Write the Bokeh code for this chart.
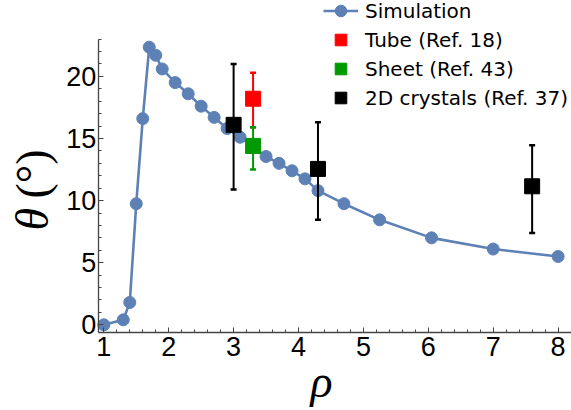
import math
from bokeh.plotting import figure
from bokeh.models import (Range1d, SingleIntervalTicker, Legend, LegendItem, Label)
from bokeh.embed import file_html
from bokeh.resources import INLINE

# ---- data ----
rho_sim = [1.0, 1.3, 1.4, 1.5, 1.6, 1.7, 1.8, 1.9, 2.1, 2.3, 2.5, 2.7, 2.9,
           3.1, 3.5, 3.7, 3.9, 4.1, 4.3, 4.7, 5.25, 6.05, 7.0, 8.0]
theta_sim = [0.0, 0.4, 1.8, 9.75, 16.6, 22.35, 21.7, 20.6, 19.5, 18.6, 17.6,
             16.7, 15.8, 15.1, 13.55, 13.0, 12.4, 11.75, 10.8, 9.75, 8.45,
             7.0, 6.1, 5.5]

tube_rho = [3.3]
tube_theta = [18.2]
tube_lo = [15.9]
tube_hi = [20.3]

sheet_rho = [3.3]
sheet_theta = [14.4]
sheet_lo = [12.5]
sheet_hi = [15.9]

cryst_rho = [3.0, 4.3, 7.6]
cryst_theta = [16.1, 12.55, 11.15]
cryst_lo = [10.9, 8.45, 7.4]
cryst_hi = [21.0, 16.3, 14.45]

labels = ["Simulation", "Tube (Ref. 18)", "Sheet (Ref. 43)", "2D crystals (Ref. 37)"]
x_label = "ρ"
y_label_sym = "θ"
y_label_unit = "(°)"

# axis extents (data units)
X_AXIS_AT = -0.6
Y_AXIS_AT = 0.914
Y_AXIS_TOP = 23.0

BLUE = "#5E81B5"
RED = "#FF0000"
GREEN = "#009900"
BLACK = "#000000"
AXIS = "#444444"

W, H = 571, 410
p = figure(width=W, height=H, output_backend="svg", toolbar_location=None,
           title=None, x_range=Range1d(-0.592, 8.2065),
           y_range=Range1d(-6.90, 26.11))
p.min_border = 0
p.min_border_left = 0
p.min_border_right = 0
p.min_border_top = 0
p.min_border_bottom = 0
p.outline_line_color = None
p.xgrid.visible = False
p.ygrid.visible = False
p.background_fill_color = "white"
p.border_fill_color = "white"

p.xaxis.ticker = SingleIntervalTicker(interval=1, num_minor_ticks=5)
p.yaxis.ticker = SingleIntervalTicker(interval=5, num_minor_ticks=5)
p.xaxis.fixed_location = X_AXIS_AT
p.yaxis.fixed_location = Y_AXIS_AT
p.xaxis.bounds = (Y_AXIS_AT, 8.2065)
p.yaxis.bounds = (X_AXIS_AT, Y_AXIS_TOP)
for ax in (p.xaxis, p.yaxis):
    ax.axis_line_color = AXIS
    ax.axis_line_width = 1.3
    ax.major_tick_line_color = AXIS
    ax.minor_tick_line_color = AXIS
    ax.major_tick_in = 5
    ax.major_tick_out = 0
    ax.minor_tick_in = 3
    ax.minor_tick_out = 0
    ax.major_label_text_font = "Liberation Sans"
    ax.major_label_text_font_size = "27px"
    ax.major_label_text_color = "black"
p.xaxis.major_label_standoff = 5
p.yaxis.major_label_standoff = 2

# simulation
line_r = p.line(rho_sim, theta_sim, line_color=BLUE, line_width=2.6)
circ_r = p.scatter(rho_sim, theta_sim, marker="circle", size=12,
                   fill_color=BLUE, line_color=BLUE)

# error bars + squares
def exp_series(xs, ys, lo, hi, color):
    p.segment(x0=xs, y0=lo, x1=xs, y1=hi, line_color=color, line_width=2)
    p.scatter(xs + xs, lo + hi, marker="dash", size=6, line_color=color,
              line_width=2.5)
    return p.scatter(xs, ys, marker="square", size=15, fill_color=color,
                     line_color=color)

cryst_r = exp_series(cryst_rho, cryst_theta, cryst_lo, cryst_hi, BLACK)
tube_r = exp_series(tube_rho, tube_theta, tube_lo, tube_hi, RED)
sheet_r = exp_series(sheet_rho, sheet_theta, sheet_lo, sheet_hi, GREEN)

legend = Legend(items=[
    LegendItem(label=labels[0], renderers=[line_r, circ_r]),
    LegendItem(label=labels[1], renderers=[tube_r]),
    LegendItem(label=labels[2], renderers=[sheet_r]),
    LegendItem(label=labels[3], renderers=[cryst_r]),
], location=(323, 298))
legend.padding = 0
legend.margin = 0
legend.border_line_color = None
legend.background_fill_alpha = 0
legend.glyph_width = 35
legend.glyph_height = 29
legend.label_height = 20
legend.spacing = 0
legend.label_standoff = 7
legend.label_text_font = "DejaVu Sans"
legend.label_text_font_size = "20px"
legend.label_text_color = "black"
p.add_layout(legend, "center")

# axis titles
p.add_layout(Label(x=321, y=29, x_units="screen", y_units="screen", text=x_label,
                   text_font="Liberation Serif", text_font_style="italic",
                   text_font_size="46px", text_align="center",
                   text_baseline="alphabetic", text_color="black"))
p.add_layout(Label(x=32, y=180, x_units="screen", y_units="screen", text=y_label_sym,
                   angle=math.pi / 2, text_font="Liberation Serif",
                   text_font_style="italic", text_font_size="46px",
                   text_align="left", text_baseline="alphabetic",
                   text_color="black"))
p.add_layout(Label(x=32, y=212, x_units="screen", y_units="screen", text=y_label_unit,
                   angle=math.pi / 2, text_font="Liberation Serif",
                   text_font_size="46px", text_align="left",
                   text_baseline="alphabetic", text_color="black"))

open("out.html", "w").write(file_html(p, INLINE))
